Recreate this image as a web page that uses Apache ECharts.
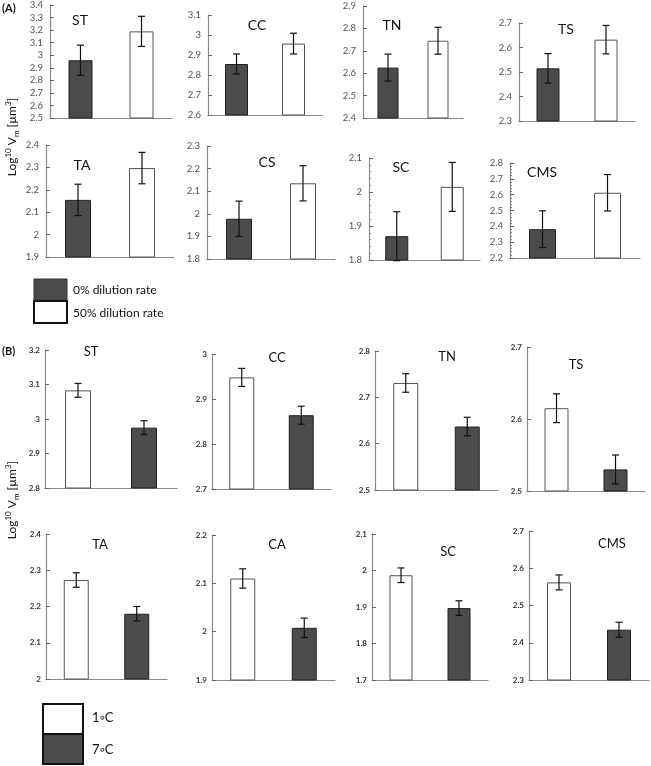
<!DOCTYPE html>
<html><head><meta charset="utf-8">
<script src="https://cdn.jsdelivr.net/npm/echarts@6/dist/echarts.min.js"></script>
<style>html,body{margin:0;padding:0;background:#fff}#c{width:651px;height:766px}</style>
</head><body><div id="c"></div>
<script>
// ---- Data ----
const panelsA = ['ST','CC','TN','TS','TA','CS','SC','CMS'];
const a0Mean  = [2.96, 2.855, 2.625, 2.515, 2.155, 1.978, 1.870, 2.382];
const a0Err   = [0.12, 0.05, 0.06, 0.06, 0.07, 0.078, 0.072, 0.116];
const a50Mean = [3.19, 2.957, 2.745, 2.632, 2.297, 2.135, 2.015, 2.612];
const a50Err  = [0.12, 0.052, 0.06, 0.058, 0.07, 0.078, 0.072, 0.115];
const aMin = [2.5, 2.6, 2.4, 2.3, 1.9, 1.8, 1.8, 2.2];
const aMax = [3.4, 3.1, 2.9, 2.7, 2.4, 2.3, 2.1, 2.8];

const panelsB = ['ST','CC','TN','TS','TA','CA','SC','CMS'];
const b1Mean = [3.083, 2.948, 2.731, 2.615, 2.273, 2.110, 1.987, 2.562];
const b1Err  = [0.02, 0.02, 0.02, 0.02, 0.02, 0.02, 0.02, 0.02];
const b7Mean = [2.975, 2.864, 2.637, 2.530, 2.180, 2.008, 1.897, 2.435];
const b7Err  = [0.02, 0.02, 0.02, 0.02, 0.02, 0.02, 0.02, 0.02];
const bMin = [2.8, 2.7, 2.5, 2.5, 2.0, 1.9, 1.7, 2.3];
const bMax = [3.2, 3.0, 2.8, 2.7, 2.4, 2.2, 2.1, 2.7];

const legendA = ['0% dilution rate', '50% dilution rate'];
const legendB = ['1\u25E6C', '7\u25E6C'];

// ---- Layout ----
const layoutA = [
 {l:50,t:5,w:122,h:113,bw:24,tx:80,ty:20},
 {l:208,t:15,w:114,h:100,bw:23,tx:257,ty:25},
 {l:363,t:6,w:100,h:112,bw:21,tx:392,ty:25},
 {l:519,t:23,w:116,h:98,bw:23,tx:566,ty:29},
 {l:46,t:145,w:128,h:112,bw:26,tx:82,ty:165},
 {l:207,t:146,w:128,h:113,bw:26,tx:267,ty:162},
 {l:369,t:158,w:111,h:102,bw:23,tx:401,ty:167,minor:true},
 {l:510,t:163,w:130,h:95,bw:27,tx:542,ty:172,minor:true}
];
const layoutB = [
 {l:45,t:350,w:132,h:138,bw:26,tx:91,ty:352},
 {l:212,t:354,w:119,h:135,bw:25,tx:277,ty:358},
 {l:375,t:351,w:123,h:139,bw:25,tx:447,ty:357},
 {l:527,t:347,w:118,h:144,bw:24,tx:576,ty:365},
 {l:46,t:534,w:121,h:145,bw:25,tx:100,ty:545},
 {l:212,t:535,w:123,h:145,bw:25,tx:277,ty:545},
 {l:372,t:534,w:116,h:146,bw:23,tx:448,ty:552},
 {l:529,t:531,w:120,h:149,bw:24,tx:612,ty:544}
];

const DARK = '#4b4b4b';
const FONT = 'Lato, "Open Sans", sans-serif';

const grid = [], xAxis = [], yAxis = [], series = [], graphic = [];

function errRender(params, api) {
  const x = api.value(0), lo = api.value(1), hi = api.value(2);
  const p1 = api.coord([x, lo]), p2 = api.coord([x, hi]);
  const c = 3.5;
  const st = {stroke:'#111', lineWidth:1.2};
  return {type:'group', children:[
    {type:'line', shape:{x1:p1[0],y1:p1[1],x2:p2[0],y2:p2[1]}, style:st},
    {type:'line', shape:{x1:p1[0]-c,y1:p1[1],x2:p1[0]+c,y2:p1[1]}, style:st},
    {type:'line', shape:{x1:p2[0]-c,y1:p2[1],x2:p2[0]+c,y2:p2[1]}, style:st}
  ]};
}

function addPanel(L, name, min, max, means, errs, colors, isA) {
  const i = grid.length;
  grid.push({left:L.l, top:L.t, width:L.w, height:L.h, containLabel:false});
  xAxis.push({gridIndex:i, type:'category', data:['a','b'],
    axisLine:{lineStyle:{color:'#8a8a8a', width:1.2}},
    axisTick:{inside:true, length:4, lineStyle:{color:'#555'}},
    axisLabel:{show:false}});
  yAxis.push({gridIndex:i, type:'value', min:min, max:max, interval:0.1,
    axisLine:{show:true, lineStyle:{color:'#8a8a8a', width:1.2}},
    axisTick:{show:true, inside:true, length:4, lineStyle:{color:'#666'}},
    minorTick:{show:!!L.minor, splitNumber:5, length:2, lineStyle:{color:'#888'}},
    splitLine:{show:false},
    axisLabel:{fontSize:isA?9.5:8, color:isA?'#555':'#333', fontFamily:FONT,
      fontWeight:isA?'normal':'bold', margin:isA?7:5}});
  series.push({type:'bar', xAxisIndex:i, yAxisIndex:i, barWidth:L.bw,
    data: means.map((v,k)=>({value:v, itemStyle:{color:colors[k],
      borderColor: colors[k]==='#ffffff' ? '#555' : '#222', borderWidth:1}})),
    silent:true, animation:false});
  series.push({type:'custom', xAxisIndex:i, yAxisIndex:i, renderItem:errRender,
    data: means.map((v,k)=>[k, v-errs[k], v+errs[k]]), z:5, silent:true, animation:false});
  graphic.push({type:'text', x:L.tx, y:L.ty, style:{text:name, fill:'#111',
    font:(isA?'14px ':'13px ')+FONT, textAlign:'center', textVerticalAlign:'middle'}});
}

for (let k=0;k<8;k++) addPanel(layoutA[k], panelsA[k], aMin[k], aMax[k],
  [a0Mean[k], a50Mean[k]], [a0Err[k], a50Err[k]], [DARK,'#ffffff'], true);
for (let k=0;k<8;k++) addPanel(layoutB[k], panelsB[k], bMin[k], bMax[k],
  [b1Mean[k], b7Mean[k]], [b1Err[k], b7Err[k]], ['#ffffff',DARK], false);

// panel letters
graphic.push({type:'text', x:2, y:8, style:{text:'(A)', font:'bold 11px '+FONT, fill:'#111', textVerticalAlign:'middle'}});
graphic.push({type:'text', x:2, y:351, style:{text:'(B)', font:'bold 11px '+FONT, fill:'#111', textVerticalAlign:'middle'}});

// y-axis titles
const yRich = {
  a:{fontSize:12, fontFamily:FONT, fill:'#111', color:'#111', lineHeight:16},
  s:{fontSize:8, fontFamily:FONT, color:'#111', verticalAlign:'top', lineHeight:16, padding:[0,0,6,0]},
  b:{fontSize:8, fontFamily:FONT, color:'#111', verticalAlign:'bottom', lineHeight:16, padding:[5,0,0,0]}
};
const yText = '{a|Log}{s|10}{a| V}{b|m}{a| [\u00B5m}{s|3}{a|]}';
[[12,137],[12,500]].forEach(p=>{
  graphic.push({type:'text', x:p[0], y:p[1], rotation:Math.PI/2,
    style:{text:yText, rich:yRich, textAlign:'center', textVerticalAlign:'middle', fill:'#111'}});
});

// legends
graphic.push({type:'rect', shape:{x:34,y:279,width:33,height:21}, style:{fill:DARK, stroke:'#333', lineWidth:1}});
graphic.push({type:'rect', shape:{x:34,y:301,width:33,height:22}, style:{fill:'#fff', stroke:'#111', lineWidth:2}});
graphic.push({type:'text', x:73, y:290, style:{text:legendA[0], font:'12px '+FONT, fill:'#111', textVerticalAlign:'middle'}});
graphic.push({type:'text', x:73, y:313, style:{text:legendA[1], font:'12px '+FONT, fill:'#111', textVerticalAlign:'middle'}});

graphic.push({type:'rect', shape:{x:43,y:704,width:40,height:30}, style:{fill:'#fff', stroke:'#111', lineWidth:2}});
graphic.push({type:'rect', shape:{x:43,y:734,width:40,height:30}, style:{fill:DARK, stroke:'#111', lineWidth:2}});
graphic.push({type:'text', x:92, y:718, style:{text:legendB[0], font:'13px '+FONT, fill:'#111', textVerticalAlign:'middle'}});
graphic.push({type:'text', x:92, y:750, style:{text:legendB[1], font:'13px '+FONT, fill:'#111', textVerticalAlign:'middle'}});

const chart = echarts.init(document.getElementById('c'), null, {renderer:'canvas'});
chart.setOption({animation:false, backgroundColor:'#fff', grid, xAxis, yAxis, series, graphic});
</script></body></html>
